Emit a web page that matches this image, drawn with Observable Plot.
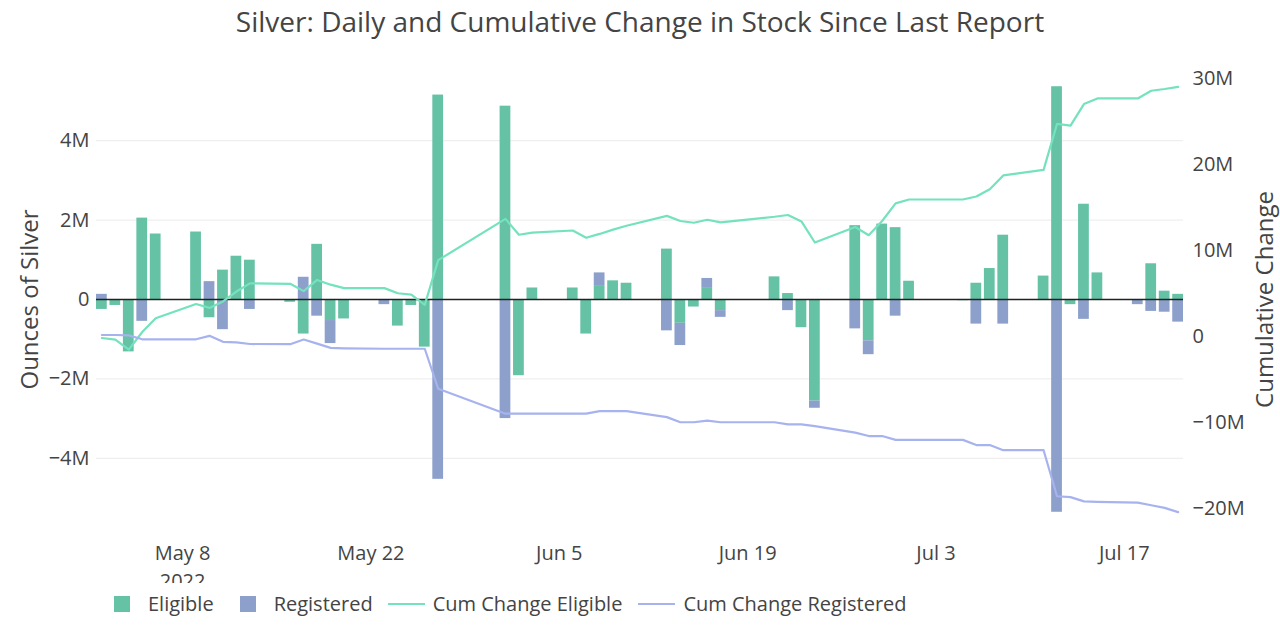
<!DOCTYPE html>
<html><head><meta charset="utf-8">
<script src="https://cdn.jsdelivr.net/npm/d3@7"></script>
<script src="https://cdn.jsdelivr.net/npm/@observablehq/plot@0.6"></script>
<style>
body{margin:0;background:#fff;font-family:"Open Sans",sans-serif;color:#444;}
#wrap{position:relative;width:1280px;height:641px;overflow:hidden;background:#fff}
#title{position:absolute;left:0;width:1280px;top:2px;text-align:center;font-size:28px;line-height:38px;color:#444}
.layer{position:absolute;left:0;top:0}
#legend{position:absolute;top:590px;left:114px;display:flex;align-items:center;font-size:20px;line-height:27px;color:#444;white-space:nowrap}
.sw{display:inline-block;width:16px;height:16px;margin-right:18px}
.ln{display:inline-block;width:37px;height:2px;margin-right:8px}
</style></head><body>
<div id="wrap">
 <div id="title">Silver: Daily and Cumulative Change in Stock Since Last Report</div>
 <div id="bars" class="layer"></div>
 <div id="lines" class="layer"></div>
 <div id="legend"></div>
</div>
<script>
const dates = [
 "2022-05-02","2022-05-03","2022-05-04","2022-05-05","2022-05-06",
 "2022-05-09","2022-05-10","2022-05-11","2022-05-12","2022-05-13",
 "2022-05-16","2022-05-17","2022-05-18","2022-05-19","2022-05-20",
 "2022-05-23","2022-05-24","2022-05-25","2022-05-26","2022-05-27",
 "2022-06-01","2022-06-02","2022-06-03",
 "2022-06-06","2022-06-07","2022-06-08","2022-06-09","2022-06-10",
 "2022-06-13","2022-06-14","2022-06-15","2022-06-16","2022-06-17",
 "2022-06-21","2022-06-22","2022-06-23","2022-06-24",
 "2022-06-27","2022-06-28","2022-06-29","2022-06-30","2022-07-01",
 "2022-07-05","2022-07-06","2022-07-07","2022-07-08",
 "2022-07-11","2022-07-12","2022-07-13","2022-07-14","2022-07-15",
 "2022-07-18","2022-07-19","2022-07-20","2022-07-21"];
// millions of ounces
const eligible = [
 -0.25,-0.15,-1.32,2.05,1.65,
 1.7,-0.46,0.74,1.09,0.99,
 -0.07,-0.87,1.39,-0.53,-0.49,
 0,-0.67,-0.15,-1.2,5.15,
 4.87,-1.92,0.29,
 0.29,-0.87,0.35,0.47,0.41,
 1.27,-0.6,-0.19,0.3,-0.28,
 0.57,0.15,-0.71,-2.56,
 1.86,-1.04,1.9,1.81,0.46,
 -0.03,0.41,0.78,1.62,
 0.59,5.36,-0.13,2.4,0.67,
 0,0.9,0.21,0.13];
const registered = [
 0.13,0,0,-0.55,0,
 0,0.45,-0.76,0,-0.25,
 0,0.56,-0.42,-0.58,0,
 -0.13,0,0,0,-4.53,
 -3.0,0,0,
 0,0,0.32,0,0,
 -0.79,-0.56,0,0.23,-0.17,
 0,-0.28,0,-0.18,
 -0.74,-0.35,0,-0.42,0,
 0,-0.62,0,-0.62,
 0,-5.36,0,-0.5,0,
 -0.13,-0.3,-0.32,-0.57];
const cumEligible = [
 -0.2,-0.4,-1.55,0.5,2.1,
 3.75,3.3,4.05,5.2,6.15,
 6.1,5.25,6.55,6.0,5.6,
 5.6,5.0,4.85,3.65,8.85,
 13.65,11.8,12.05,
 12.3,11.45,11.9,12.4,12.85,
 14.0,13.4,13.2,13.55,13.25,
 13.9,14.1,13.35,10.9,
 12.7,11.75,13.4,15.45,15.9,
 15.9,16.25,17.1,18.7,
 19.35,24.7,24.5,27.0,27.65,
 27.65,28.55,28.75,29.0];
const cumRegistered = [
 0.15,0.15,0.1,-0.35,-0.35,
 -0.35,0.05,-0.65,-0.7,-0.9,
 -0.92,-0.38,-0.85,-1.35,-1.4,
 -1.45,-1.45,-1.45,-1.45,-6.1,
 -9.0,-9.0,-9.0,
 -9.0,-9.0,-8.7,-8.7,-8.7,
 -9.4,-10.0,-10.0,-9.8,-10.0,
 -10.0,-10.25,-10.25,-10.45,
 -11.2,-11.6,-11.6,-12.05,-12.05,
 -12.05,-12.65,-12.65,-13.25,
 -13.25,-18.6,-18.7,-19.2,-19.25,
 -19.35,-19.65,-19.95,-20.45];
const xTicks = ["2022-05-08","2022-05-22","2022-06-05","2022-06-19","2022-07-03","2022-07-17"];
const xTickLabels = ["May 8\n2022","May 22","Jun 5","Jun 19","Jul 3","Jul 17"];
const leftTicks = [-4,-2,0,2,4];
const rightTicks = [-20,-10,0,10,20,30];
const seriesNames = ["Eligible","Registered","Cum Change Eligible","Cum Change Registered"];
const seriesColors = ["#66c2a5","#8da0cb","#74e2bd","#a7b3ee"];
const titles = {y1:"Ounces of Silver", y2:"Cumulative Change"};

const DAY = 864e5, HALF = 0.4*DAY;
const parse = s => new Date(s + "T00:00:00Z");
const D = dates.map(parse);
const xDomain = [new Date(+D[0]-HALF), new Date(+D[D.length-1]+HALF)];
const fmtM = d => d === 0 ? "0" : (d < 0 ? "\u2212" : "") + Math.abs(d) + "M";
const tickLabelMap = new Map(xTicks.map((s,i)=>[+parse(s), xTickLabels[i]]));

const bars = D.flatMap((d,i)=>[
  {date:d, series:seriesNames[0], value:eligible[i]},
  {date:d, series:seriesNames[1], value:registered[i]}]);
const lines = D.map((d,i)=>({date:d, series:seriesNames[2], value:cumEligible[i]})).concat(
  D.map((d,i)=>({date:d, series:seriesNames[3], value:cumRegistered[i]})));

const W=1280, H=583, mT=64, mB=H-534, mL=96, mR=97;
const common = {width:W, height:H, marginTop:mT, marginBottom:mB, marginLeft:mL, marginRight:mR,
  style:{fontFamily:"'Open Sans', sans-serif", fontSize:"20px", color:"#444", background:"transparent"}};

const p1 = Plot.plot({...common,
  x:{type:"utc", domain:xDomain},
  y:{domain:[-5.92,5.92]},
  color:{domain:seriesNames.slice(0,2), range:seriesColors.slice(0,2)},
  marks:[
    Plot.gridY(leftTicks.filter(t=>t!==0), {stroke:"#ebebeb", strokeOpacity:1, strokeWidth:1}),
    Plot.rectY(bars, {x1:d=>new Date(+d.date-HALF), x2:d=>new Date(+d.date+HALF), y:"value", fill:"series"}),
    Plot.ruleY([0], {stroke:"#222", strokeWidth:1.3}),
    Plot.axisY(leftTicks, {tickSize:0, tickPadding:7, tickFormat:fmtM, fontSize:20, label:null}),
    Plot.axisX(xTicks.map(parse), {tickSize:0, tickPadding:6, tickFormat:d=>tickLabelMap.get(+d), fontSize:20, lineHeight:1.4, label:null}),
    Plot.text([titles.y1], {frameAnchor:"left", text:d=>d, rotate:-90, dx:-66, textAnchor:"middle", fontSize:24, fill:"#444"})
  ]});
const p2 = Plot.plot({...common,
  x:{type:"utc", domain:xDomain, axis:null},
  y:{domain:[-23.05,31.6]},
  color:{domain:seriesNames.slice(2), range:seriesColors.slice(2)},
  marks:[
    Plot.line(lines, {x:"date", y:"value", z:"series", stroke:"series", strokeWidth:2.2}),
    Plot.axisY(rightTicks, {anchor:"right", tickSize:0, tickPadding:9, tickFormat:fmtM, fontSize:20, label:null}),
    Plot.text([titles.y2], {frameAnchor:"right", text:d=>d, rotate:-90, dx:82, textAnchor:"middle", fontSize:24, fill:"#444"})
  ]});
document.getElementById("bars").appendChild(p1);
document.getElementById("lines").appendChild(p2);

const lg = document.getElementById("legend");
const gaps = [26, 15, 16, 0];
seriesNames.forEach((n,i)=>{
  const it = document.createElement("span");
  it.style.display="inline-flex"; it.style.alignItems="center"; it.style.marginRight=gaps[i]+"px";
  const s = document.createElement("span");
  s.className = i<2 ? "sw" : "ln";
  s.style.background = seriesColors[i];
  const t = document.createElement("span"); t.textContent = n;
  it.appendChild(s); it.appendChild(t); lg.appendChild(it);
});
</script>
</body></html>
